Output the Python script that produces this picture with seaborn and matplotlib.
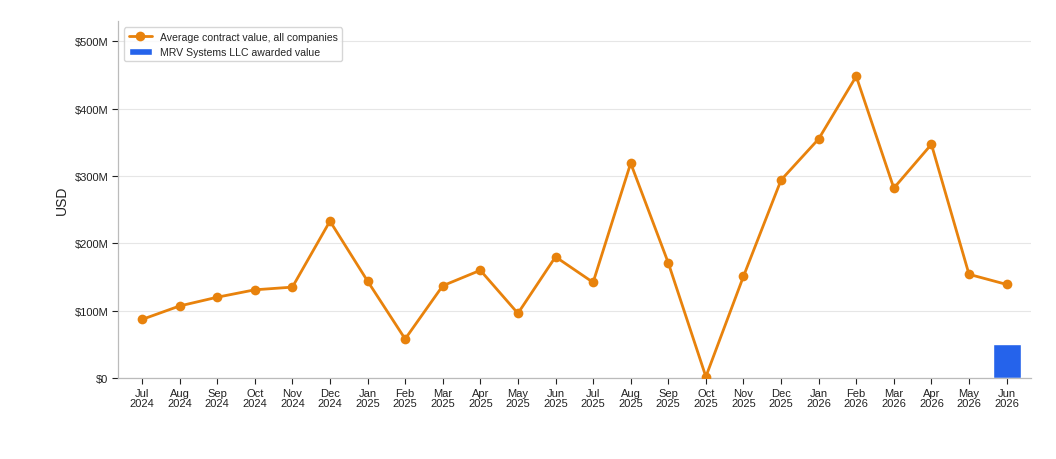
import matplotlib
matplotlib.use("Agg")
import matplotlib.pyplot as plt
import matplotlib.ticker as mticker
import numpy as np
import seaborn as sns

# data
months = ["Jul\n2024", "Aug\n2024", "Sep\n2024", "Oct\n2024", "Nov\n2024", "Dec\n2024",
          "Jan\n2025", "Feb\n2025", "Mar\n2025", "Apr\n2025", "May\n2025", "Jun\n2025",
          "Jul\n2025", "Aug\n2025", "Sep\n2025", "Oct\n2025", "Nov\n2025", "Dec\n2025",
          "Jan\n2026", "Feb\n2026", "Mar\n2026", "Apr\n2026", "May\n2026", "Jun\n2026"]
avg_value_m = [87, 107, 120, 131, 135, 233, 144, 58, 137, 160, 96, 180,
               142, 319, 171, 2, 151, 294, 355, 448, 282, 347, 154, 139]
mrv_month = "Jun\n2026"
mrv_value_m = 50

sns.set_theme(style="white")
plt.rcParams['font.family'] = ['Liberation Sans', 'DejaVu Sans']
plt.rcParams['xtick.bottom'] = True
plt.rcParams['ytick.left'] = True

fig = plt.figure(figsize=(10.56, 4.6), dpi=100)
ax = fig.add_axes([0.1117, 0.176, 0.8643, 0.776])

x = np.arange(len(months))
avg = np.array(avg_value_m) * 1e6

ax.bar(months.index(mrv_month), mrv_value_m * 1e6, width=0.75, color="#2563EB",
       label="MRV Systems LLC awarded value", zorder=2)
sns.lineplot(x=x, y=avg, ax=ax, color="#E8820C", linewidth=2, marker="o",
             markersize=7, markeredgewidth=0, label="Average contract value, all companies",
             zorder=3)

ax.set_xlim(-0.64, len(months) - 0.36)
ax.set_ylim(0, 530e6)
ax.set_xticks(x)
ax.set_xticklabels(months, fontsize=8, color="#222222", linespacing=1.0)
ax.yaxis.set_major_locator(mticker.MultipleLocator(100e6))
ax.yaxis.set_major_formatter(mticker.FuncFormatter(
    lambda v, p: "$0" if v == 0 else f"${v/1e6:.0f}M"))
ax.tick_params(axis="y", labelsize=8, labelcolor="#222222", color="#222222",
               length=4, width=0.8, pad=3)
ax.tick_params(axis="x", length=4, width=0.8, color="#222222", pad=3)
ax.set_ylabel("USD", fontsize=10, color="#222222")
ax.grid(axis="y", color="#e6e6e6", linewidth=0.8)
ax.set_axisbelow(True)
sns.despine(ax=ax)
for s in ["left", "bottom"]:
    ax.spines[s].set_color("#bbbbbb")
    ax.spines[s].set_linewidth(0.9)

handles, labels = ax.get_legend_handles_labels()
order = [labels.index("Average contract value, all companies"),
         labels.index("MRV Systems LLC awarded value")]
ax.legend([handles[i] for i in order], [labels[i] for i in order],
          loc="upper left", fontsize=7.6, frameon=True, edgecolor="#cccccc",
          fancybox=True, borderaxespad=0.6, handlelength=2.2)

fig.savefig("out.png", dpi=100)
